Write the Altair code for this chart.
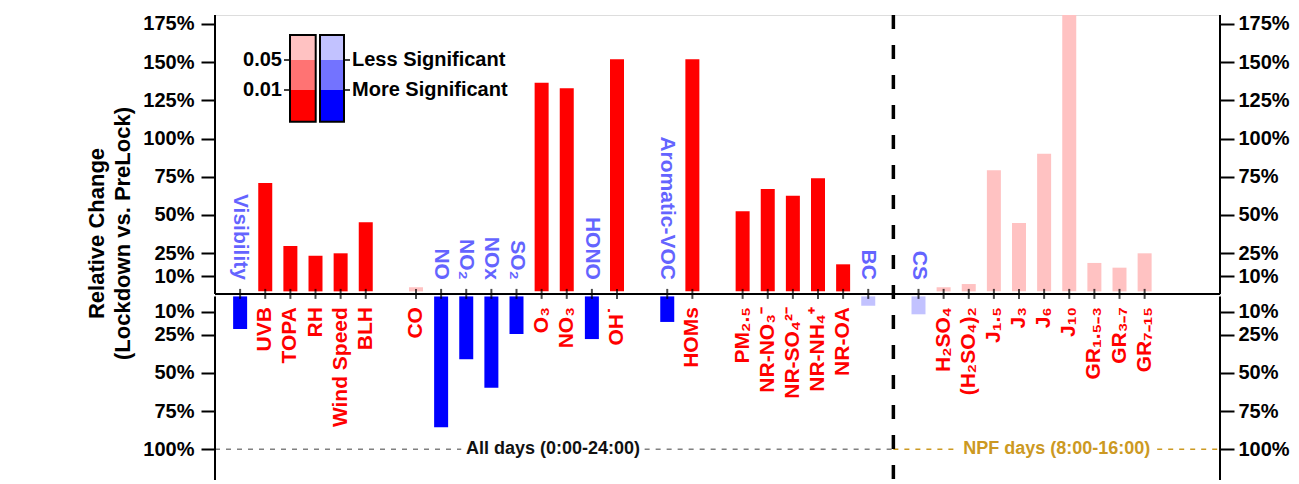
import altair as alt
import pandas as pd

# ---------------- data ----------------
labels = ["Visibility", "UVB", "TOPA", "RH", "Wind Speed", "BLH", "CO", "NO", "NO₂", "NOx",
          "SO₂", "O₃", "NO₃", "HONO", "OH˙", "Aromatic-VOC", "HOMs", "PM₂.₅", "NR-NO₃⁻",
          "NR-SO₄²⁻", "NR-NH₄⁺", "NR-OA", "BC", "CS", "H₂SO₄", "(H₂SO₄)₂", "J₁.₅", "J₃",
          "J₆", "J₁₀", "GR₁.₅₋₃", "GR₃₋₇", "GR₇₋₁₅"]
slots = [1, 2, 3, 4, 5, 6, 8, 9, 10, 11, 12, 13, 14, 15, 16, 18, 19, 21, 22, 23, 24, 25, 26,
         28, 29, 30, 31, 32, 33, 34, 35, 36, 37]
values = [-21.3, 70.9, 29.7, 23.3, 24.9, 45.2, 2.7, -85.6, -41.1, -59.7, -24.6, 136.5, 132.8,
          -27.9, 151.8, -16.7, 151.8, 52.4, 66.9, 62.6, 74.0, 17.7, -6.1, -11.7, 2.7, 4.8,
          79.2, 44.7, 90.0, 181.0, 18.6, 15.5, 24.9]
significance = ["high"] * 6 + ["low"] + ["high"] * 15 + ["low"] * 11

top_ticks = [10, 25, 50, 75, 100, 125, 150, 175]
bottom_ticks = [10, 25, 50, 75, 100]

legend_levels = ["0.05", "0.01"]
legend_texts = ["Less Significant", "More Significant"]

# ---------------- constants ----------------
G = 3.3            # gap (in % units) between the upper and lower halves
YMAX = 180.8
YMIN = -123.4
XMAX = 40
DIVIDER = 27
FONT = "Liberation Sans"

color_domain = ["pos_high", "pos_mid", "pos_low", "neg_high", "neg_mid", "neg_low"]
color_range = ["#ff0000", "#ff7373", "#ffc2c2", "#0000ff", "#7373ff", "#c2c2ff"]

df = pd.DataFrame({"label": labels, "slot": slots, "value": values, "sig": significance})
df["key"] = [("pos_" if v > 0 else "neg_") + s for v, s in zip(values, significance)]

xs = alt.Scale(domain=[0, XMAX], padding=0, nice=False, zero=False)
ys = alt.Scale(domain=[YMIN, YMAX], padding=0, nice=False, zero=False)

label_expr = "datum.value > 0 ? datum.value + '%' : round(-datum.value - " + str(G) + ") + '%'"

tick_values = top_ticks + [-(v + G) for v in bottom_ticks]

axis_common = dict(values=tick_values, labelExpr=label_expr, domain=False, grid=False,
                   ticks=True, tickSize=14, tickWidth=2, tickColor="black",
                   labelFont=FONT, labelFontSize=20, labelFontWeight="bold",
                   labelColor="black", labelOverlap=False)

base = alt.Chart(df).transform_calculate(
    ytop=f"datum.value > 0 ? datum.value : datum.value - {G}",
    ybase=f"datum.value > 0 ? 0 : -{G}",
)

bars = base.mark_bar(size=14, clip=True).encode(
    x=alt.X("slot:Q", scale=xs, axis=None),
    y=alt.Y("ytop:Q", scale=ys, axis=None),
    y2="ybase:Q",
    color=alt.Color("key:N", scale=alt.Scale(domain=color_domain, range=color_range), legend=None),
)

pos_labels = alt.Chart(df).transform_filter("datum.value > 0").transform_calculate(
    ly=f"-{G} - 7"
).mark_text(font=FONT, fontSize=21, fontWeight="bold", angle=270, align="right",
            baseline="middle", color="#ff0000").encode(
    x=alt.X("slot:Q", scale=xs, axis=None),
    y=alt.Y("ly:Q", scale=ys, axis=None),
    text="label:N",
)

neg_labels = alt.Chart(df).transform_filter("datum.value < 0").transform_calculate(
    ly="7.5"
).mark_text(font=FONT, fontSize=21, fontWeight="bold", angle=90, align="right",
            baseline="middle", color="#6464ff").encode(
    x=alt.X("slot:Q", scale=xs, axis=None),
    y=alt.Y("ly:Q", scale=ys, axis=None),
    text="label:N",
)

# x-axis line and category ticks
one = alt.Data(values=[{"a": 1}])
xaxis_line = alt.Chart(one).mark_rule(color="black", strokeWidth=2).encode(
    x=alt.XDatum(0, scale=xs, axis=None), x2=alt.X2Datum(XMAX),
    y=alt.YDatum(-G / 2, scale=ys, axis=None),
)
xticks = alt.Chart(df).mark_tick(orient="vertical", size=10, thickness=2, color="black").encode(
    x=alt.X("slot:Q", scale=xs, axis=None),
    y=alt.YDatum(-G / 2, scale=ys, axis=None),
)

# y-axis domain segments with left / right axes
seg = pd.DataFrame({"y0": [YMAX, -G], "y1": [-G / 2, YMIN]})
left_axis = alt.Chart(seg).mark_rule(color="black", strokeWidth=2).encode(
    x=alt.XDatum(0, scale=xs, axis=None),
    y=alt.Y("y0:Q", scale=ys, axis=alt.Axis(orient="left",
            title=["Relative Change", "(Lockdown vs. PreLock)"],
            titleFont=FONT, titleFontSize=22, titleFontWeight="bold", titleColor="black",
            titleLineHeight=26, titlePadding=8, titleY=218, labelPadding=7, **axis_common)),
    y2="y1:Q",
)
right_axis = alt.Chart(seg).mark_rule(color="black", strokeWidth=2).encode(
    x=alt.XDatum(XMAX, scale=xs, axis=None),
    y=alt.Y("y0:Q", scale=ys, axis=alt.Axis(orient="right", title=None, labelPadding=4,
                                             **axis_common)),
    y2="y1:Q",
)

# vertical divider
divider = alt.Chart(one).mark_rule(color="black", strokeWidth=3.5, strokeDash=[14, 16]).encode(
    x=alt.XDatum(DIVIDER, scale=xs, axis=None)
)

# 100% reference lines with captions
ref_y = -(100 + G)
ref_segs = pd.DataFrame({
    "x0": [0, 17.1, DIVIDER, 37.5],
    "x1": [9.8, DIVIDER, 29.6, XMAX],
    "c": ["#808080", "#808080", "#cc9922", "#cc9922"],
})
ref_lines = alt.Chart(ref_segs).mark_rule(strokeWidth=1.5, strokeDash=[5, 6]).encode(
    x=alt.X("x0:Q", scale=xs, axis=None), x2="x1:Q",
    y=alt.YDatum(ref_y, scale=ys, axis=None),
    color=alt.Color("c:N", scale=None, legend=None),
)
ref_text = pd.DataFrame({"t": ["All days (0:00-24:00)", "NPF days (8:00-16:00)"],
                         "xc": [13.45, 33.5], "c": ["#111111", "#cc9922"]})
ref_texts = alt.Chart(ref_text).mark_text(font=FONT, fontSize=18, fontWeight="bold",
                                          baseline="middle").encode(
    x=alt.X("xc:Q", scale=xs, axis=None),
    y=alt.YDatum(ref_y, scale=ys, axis=None),
    text="t:N",
    color=alt.Color("c:N", scale=None, legend=None),
)

# ---------------- significance legend (pixel placement inside plot) ----------------
leg_layers = []
band_y = [20, 45, 75, 106.7]
cols = [(75, 100.7, ["#ffc2c2", "#ff7373", "#ff0000"]),
        (105, 129, ["#c2c2ff", "#7373ff", "#0000ff"])]
for x0, x1, shades in cols:
    for i, c in enumerate(shades):
        leg_layers.append(alt.Chart(one).mark_rect(color=c).encode(
            x=alt.value(x0), x2=alt.value(x1), y=alt.value(band_y[i]), y2=alt.value(band_y[i + 1])))
    leg_layers.append(alt.Chart(one).mark_rect(fillOpacity=0, stroke="black", strokeWidth=2).encode(
        x=alt.value(x0), x2=alt.value(x1), y=alt.value(band_y[0]), y2=alt.value(band_y[3])))
for i, (lev, txt) in enumerate(zip(legend_levels, legend_texts)):
    yy = band_y[i + 1]
    leg_layers.append(alt.Chart(one).mark_rule(color="black", strokeWidth=1.5).encode(
        x=alt.value(69), x2=alt.value(75), y=alt.value(yy)))
    leg_layers.append(alt.Chart(one).mark_rule(color="black", strokeWidth=1.5).encode(
        x=alt.value(129), x2=alt.value(135), y=alt.value(yy)))
    leg_layers.append(alt.Chart(one).mark_text(font=FONT, fontSize=20, fontWeight="bold",
                                               align="right", baseline="middle", color="black").encode(
        x=alt.value(67), y=alt.value(yy), text=alt.value(lev)))
    leg_layers.append(alt.Chart(one).mark_text(font=FONT, fontSize=20, fontWeight="bold",
                                               align="left", baseline="middle", color="black").encode(
        x=alt.value(137), y=alt.value(yy), text=alt.value(txt)))

chart = alt.layer(
    ref_lines, ref_texts, divider, bars, xaxis_line, xticks, pos_labels, neg_labels,
    left_axis, right_axis, *leg_layers
).resolve_axis(y="independent").properties(
    width=1005, height=465,
    padding={"left": 207, "top": 7, "right": 71, "bottom": 0},
    autosize=alt.AutoSizeParams(type="none"),
).configure_view(stroke=None).configure(background="white")

chart.save("out.html", embed_options={"renderer": "svg", "actions": False})
